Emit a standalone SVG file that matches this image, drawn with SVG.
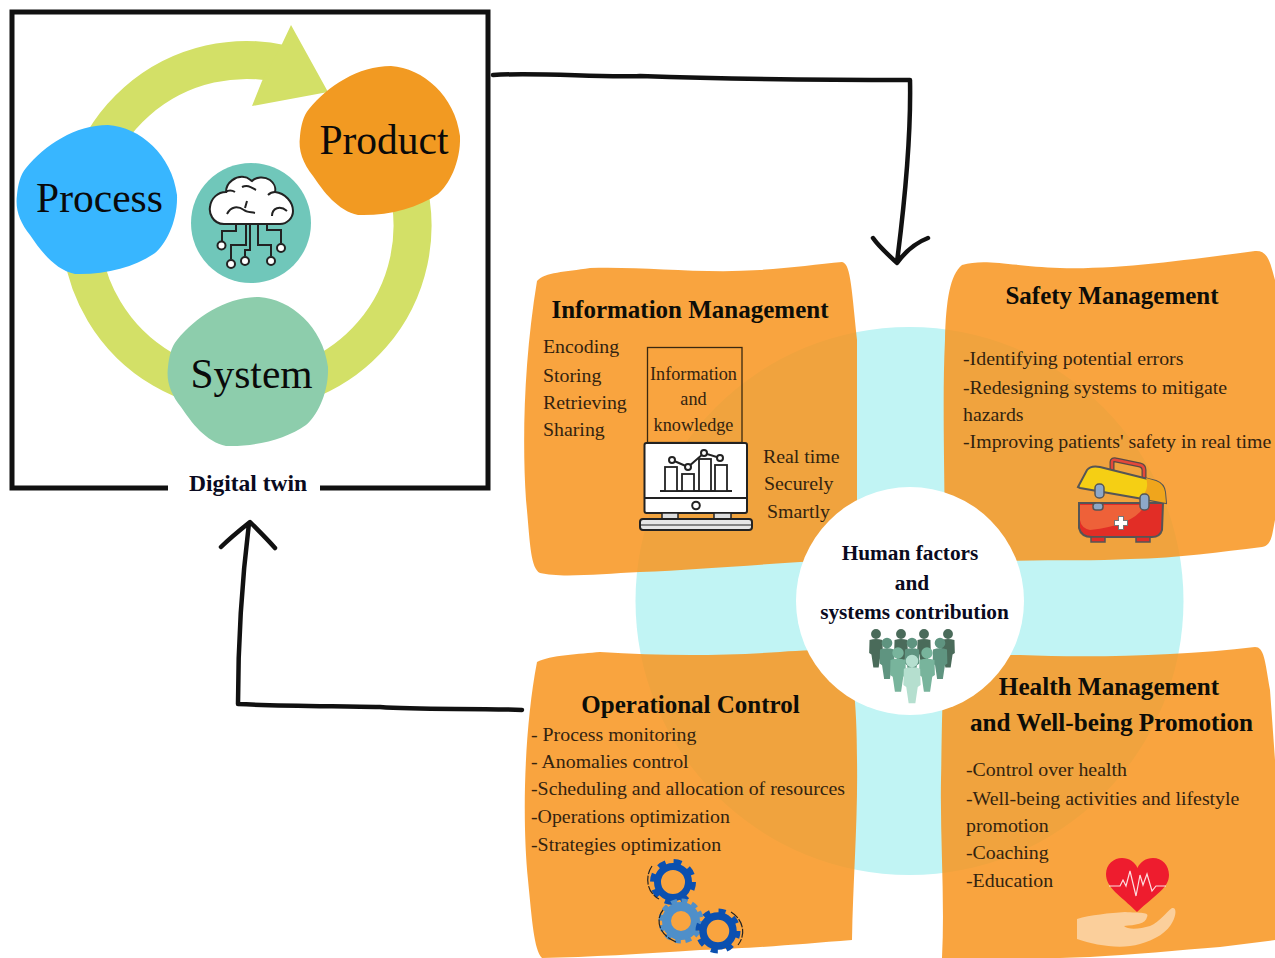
<svg xmlns="http://www.w3.org/2000/svg" width="1275" height="958" viewBox="0 0 1275 958">
<style>
text{font-family:"Liberation Serif","Times New Roman",serif;fill:#1c1410}
.big{font-size:41.5px;text-anchor:middle;fill:#0a0a0a}
.h{font-size:25px;font-weight:700;text-anchor:middle;fill:#0d0d08}
.hw{font-size:25.2px}
.c{font-size:21.3px;font-weight:700;text-anchor:middle;fill:#0a0a20}
.b{font-size:19.85px;fill:#33230f}
.k{font-size:18.2px;text-anchor:middle;fill:#33230f}
.card{fill:#F8951F;fill-opacity:.86}
.conn{fill:none;stroke:#111;stroke-width:4.5;stroke-linecap:round;stroke-linejoin:round}
.ic{stroke:#222;stroke-width:2;fill:none}
.icw{stroke:#222;stroke-width:2;fill:#fff}
.dash{fill:none;stroke:#222;stroke-width:1.2;stroke-dasharray:9 1.5}
</style>
<defs>
<path id="blob" d="M26 168C45 145 75 125 108 125C140 127 172 155 177 195C178 222 165 245 155 253C135 267 105 275 75 274C55 270 40 250 30 235C20 222 15 210 17 195C18 185 20 175 26 168Z"/>
<path id="person" d="M0 -6.500A6.500 6.500 0 1 1 0 6.500A6.500 6.500 0 1 1 0 -6.500ZM-8.500 8Q0 5 8.500 8L9 25L6 27L3.500 44L-3.500 44L-6 27L-9 25Z"/>
</defs>

<g id="digital-twin-frame">
<path d="M168 488H12V12H488V488H320" fill="none" stroke="#111" stroke-width="5"/>
<text x="248" y="491" text-anchor="middle" style="font-size:23.500px;font-weight:700;fill:#0a0a20">Digital twin</text>
</g>
<g id="cycle-ring">
<path d="M370 115A166 166 0 1 1 283 64" fill="none" stroke="#D3E067" stroke-width="38"/>
<path d="M282 44L291 25L328 92L252 106L262 81Z" fill="#D3E067"/>
</g>
<g id="process"><use href="#blob" fill="#38B6FF"/><text class="big" x="99.500" y="212">Process</text></g>
<g id="product"><use href="#blob" x="283" y="-59" fill="#F29A22"/><text class="big" x="384" y="154">Product</text></g>
<g id="system"><use href="#blob" x="151" y="172" fill="#8DCDAC"/><text class="big" x="251.500" y="388">System</text></g>
<g id="cloud-brain">
<circle cx="251" cy="223" r="60" fill="#70C7BA"/>
<path class="icw" d="M224 224C212 224 209 212 210 207C211 198 218 192 226 192C226 182 236 176 244 177C248 177 250 180 252 181C256 177 264 176 270 180C274 183 276 188 275 192C285 193 293 202 293 211C293 218 287 224 280 224Z"/>
<path class="ic" d="M227 214C231 206 238 206 244 210M244 210C246 212 250 212 255 213M247 201L245 208M242 187C248 184 252 188 256 190M272 216C272 208 280 205 287 211M226 192C228 190 232 190 235 192M275 192C272 192 270 193 268 195"/>
<path class="ic" d="M236 225V231H222V241M246 225V245H231V259M250 225V250H245V256M258 225V245H271V256M267 225V230H281V243"/>
<g class="icw"><circle cx="221.500" cy="245.500" r="4"/><circle cx="231" cy="264" r="4"/><circle cx="245" cy="261" r="4"/><circle cx="271" cy="261" r="4"/><circle cx="281" cy="248" r="4"/></g>
</g>

<g id="backdrop"><circle cx="909.500" cy="601" r="274" fill="#C1F4F4"/></g>

<g id="information-management">
<path class="card" d="M537 281C545 272 565 272 590 268C640 266 700 274 760 270C790 268 820 264 842 262C850 264 851 280 857 340L857 560L800 562C740 566 690 570 640 572C600 574 560 578 540 573C530 568 530 540 526 500C522 440 524 360 537 281Z"/>
<text class="h" x="690" y="318">Information Management</text>
<text class="b" x="543" y="353">Encoding</text><text class="b" x="543" y="382">Storing</text><text class="b" x="543" y="409">Retrieving</text><text class="b" x="543" y="436">Sharing</text>
<rect x="647.500" y="347.500" width="94.500" height="95" fill="none" stroke="#3a2810" stroke-width="1.300"/>
<text class="k" x="693.500" y="380">Information</text><text class="k" x="693.500" y="405">and</text><text class="k" x="693.500" y="431">knowledge</text>
<g id="monitor-icon">
<rect x="644.500" y="443" width="102.500" height="70" rx="2" class="icw"/>
<path class="ic" d="M644 498H747M660 491H732"/>
<g fill="#fff" stroke="#222" stroke-width="1.800"><rect x="665" y="467" width="12" height="24"/><rect x="682" y="474" width="12" height="17"/><rect x="699" y="459" width="12" height="32"/><rect x="715" y="465" width="12" height="26"/></g>
<path class="ic" d="M672 460L688 467L704 453L720 458" stroke-width="1.500"/>
<g class="icw" stroke-width="1.500"><circle cx="672" cy="460" r="3"/><circle cx="688" cy="467" r="3"/><circle cx="704" cy="453" r="3"/><circle cx="720" cy="458" r="3"/></g>
<circle cx="696" cy="505.500" r="3.800" class="icw"/>
<rect x="662" y="513" width="16" height="6" fill="#ddd" stroke="#222" stroke-width="1.500"/><rect x="714" y="513" width="17" height="6" fill="#ddd" stroke="#222" stroke-width="1.500"/>
<rect x="640" y="519" width="112" height="11" rx="3" fill="#e6e6e6" stroke="#222" stroke-width="2"/>
<path d="M641 525H751" stroke="#222" stroke-width="1"/>
</g>
<text class="b" x="763" y="463">Real time</text><text class="b" x="764" y="490">Securely</text><text class="b" x="767" y="518">Smartly</text>
</g>

<g id="safety-management">
<path class="card" d="M962 265C985 258 1010 266 1060 268C1120 270 1200 258 1255 251C1268 250 1270 262 1275 280V520C1272 535 1272 545 1262 547C1220 552 1180 558 1130 559C1080 562 1020 558 945 564C945 480 942 400 945 340C946 300 950 275 962 265Z"/>
<text class="h" x="1112" y="304">Safety Management</text>
<text class="b" x="963" y="365">-Identifying potential errors</text>
<text class="b" x="963" y="394">-Redesigning systems to mitigate</text>
<text class="b" x="963" y="421">hazards</text>
<text class="b" x="963" y="448">-Improving patients' safety in real time</text>
<g id="first-aid-icon">
<path d="M1112 470V462Q1112 459 1116 460L1140 465Q1144 466 1144 470V480" fill="none" stroke="#5a4a45" stroke-width="5"/>
<path d="M1112 470V462Q1112 459 1116 460L1140 465Q1144 466 1144 470V480" fill="none" stroke="#E5473A" stroke-width="2.500"/>
<path d="M1079 503H1163L1162 530Q1160 537 1152 537H1092Q1081 537 1079 528Z" fill="#E22D26" stroke="#555" stroke-width="2"/>
<path d="M1080 505H1145Q1135 525 1090 530Q1081 528 1080 520Z" fill="#EE6139"/>
<path d="M1091 537h14v5h-14zM1136 537h14v5h-14z" fill="#E22D26" stroke="#555" stroke-width="1.500"/>
<path d="M1078 487L1087 470Q1091 465 1100 467L1156 481Q1164 484 1165 492L1166 503L1080 488Z" fill="#F5CF14" stroke="#555" stroke-width="2"/>
<path d="M1146 478L1156 481Q1164 484 1165 492L1166 503L1140 498Q1150 490 1146 478Z" fill="#F0A51C"/>
<g fill="#8DA8C8" stroke="#555" stroke-width="1.500"><rect x="1095" y="484" width="9" height="14" rx="4"/><rect x="1140" y="494" width="9" height="16" rx="4"/><rect x="1093" y="503" width="10" height="7" rx="3"/></g>
<path d="M1121 516V530M1114 523H1128" stroke="#777" stroke-width="6"/><path d="M1121 517V529M1115 523H1127" stroke="#fff" stroke-width="4"/>
</g>
</g>

<g id="operational-control">
<path class="card" d="M537 662C550 655 580 654 600 652C660 656 720 656 780 652C810 650 835 649 846 650C852 665 857 700 857 760C858 820 853 880 852 940C800 944 760 948 700 950C640 954 590 957 542 958C534 950 532 920 528 880C522 820 524 730 537 662Z"/>
<text class="h" x="690.500" y="713">Operational Control</text>
<text class="b" x="531" y="741">- Process monitoring</text>
<text class="b" x="531" y="768">-  Anomalies control</text>
<text class="b" x="531" y="795">-Scheduling and allocation of resources</text>
<text class="b" x="531" y="823">-Operations optimization</text>
<text class="b" x="531" y="851">-Strategies optimization</text>
<g id="gears-icon" fill="none">
<circle cx="673" cy="882" r="15.500" stroke="#0B50B0" stroke-width="7"/><circle cx="673" cy="882" r="20.500" stroke="#0B50B0" stroke-width="5" stroke-dasharray="8 8.100"/>
<circle cx="681" cy="921" r="14.500" stroke="#4F8FC9" stroke-width="9"/><circle cx="681" cy="921" r="20.500" stroke="#4F8FC9" stroke-width="4" stroke-dasharray="6 4.730"/>
<circle cx="718" cy="931" r="15" stroke="#0B50B0" stroke-width="7.500"/><circle cx="718" cy="931" r="20" stroke="#0B50B0" stroke-width="5" stroke-dasharray="7 8.700"/>
<path class="dash" d="M652 866C645 876 646 892 659 899"/><path class="dash" d="M663 910C656 918 657 934 676 942"/><path class="dash" d="M731 912C744 920 746 935 738 945"/>
</g>
</g>

<g id="health-management">
<path class="card" d="M945 660C955 654 990 655 1020 655C1090 658 1180 656 1255 647C1264 647 1265 660 1270 690L1275 760V940L1220 947C1180 950 1130 955 1090 957L1060 958H942C945 900 940 840 941 780C942 730 942 690 945 660Z"/>
<text class="h hw" x="1109" y="695">Health Management</text>
<text class="h hw" x="1111.500" y="731">and Well-being Promotion</text>
<text class="b" x="966" y="776">-Control over health</text>
<text class="b" x="966" y="805">-Well-being activities and lifestyle</text>
<text class="b" x="966" y="832">promotion</text>
<text class="b" x="966" y="859">-Coaching</text>
<text class="b" x="966" y="887">-Education</text>
<g id="heart-icon">
<path d="M1137 912C1120 895 1106 888 1106 874C1106 864 1114 858 1122 858C1129 858 1135 862 1137.500 868C1140 862 1146 858 1153 858C1162 858 1169 865 1169 875C1169 888 1155 895 1137 912Z" fill="#EE1C2E"/>
<path d="M1109 886H1120L1123 880L1126 886L1130 871L1136 896L1140 875L1143 885L1147 874L1152 891L1156 886H1166" fill="none" stroke="#fff" stroke-width="1.200" stroke-opacity=".85"/>
<path d="M1077 919C1090 915 1110 913 1125 912C1140 913 1150 912 1147 917C1146 924 1135 925 1124 926C1128 930 1140 929 1150 926C1160 922 1166 912 1172 908C1177 907 1176 915 1173 921C1168 932 1155 940 1140 944C1120 950 1095 945 1077 939Z" fill="#FBCF9B"/>
</g>
</g>

<g id="human-factors">
<circle cx="910" cy="601" r="114" fill="#fff"/>
<text class="c" x="910" y="560">Human factors</text>
<text class="c" x="912" y="590">and</text>
<text class="c" x="914.500" y="619">systems contribution</text>
<g id="people-icon">
<g fill="#4A6B5A"><use href="#person" transform="translate(876 634) scale(.76)"/><use href="#person" transform="translate(901 634) scale(.76)"/><use href="#person" transform="translate(924 634) scale(.76)"/><use href="#person" transform="translate(948 634) scale(.76)"/></g>
<g fill="#5F9480"><use href="#person" transform="translate(887 643) scale(.82)"/><use href="#person" transform="translate(912 643) scale(.82)"/><use href="#person" transform="translate(940 643) scale(.82)"/></g>
<g fill="#78B49C"><use href="#person" transform="translate(898 653) scale(.88)"/><use href="#person" transform="translate(927 653) scale(.88)"/></g>
<use href="#person" transform="translate(912 661) scale(.96)" fill="#B5DFCF"/>
</g>
</g>

<g id="connectors">
<path class="conn" d="M493 75C540 72 600 78 640 76C700 78 820 80 910 80C911 130 905 200 897 262M873 238C880 248 890 256 897 263C905 252 915 243 928 238"/>
<path class="conn" d="M522 710C470 708 420 710 380 707C330 706 280 706 238 704C238 640 242 580 249 523M221 547C230 538 240 530 250 522C258 530 268 540 275 548"/>
</g>
</svg>
